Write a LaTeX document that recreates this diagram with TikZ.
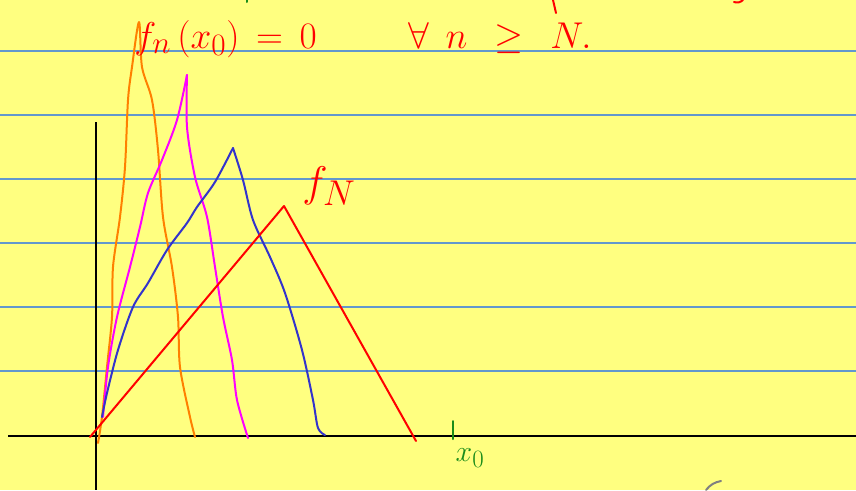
\documentclass[tikz,border=0pt]{standalone}
\usepackage{amsmath,amssymb}
\usepackage{xcolor}
\usepackage{tikz}
\usetikzlibrary{positioning}
\definecolor{paper}{RGB}{255,255,128}
\definecolor{rule}{RGB}{98,152,205}
\definecolor{inkorange}{RGB}{255,128,0}
\definecolor{inkmagenta}{RGB}{255,0,255}
\definecolor{inkblue}{RGB}{51,51,204}
\definecolor{inkred}{RGB}{255,0,0}
\definecolor{inkgreen}{RGB}{26,140,26}
\tikzset{
  ruled/.style  ={draw=rule, line width=1.4pt},
  axis/.style   ={draw=black, line width=2.2pt},
  pen/.style    ={line width=2pt, line cap=round, line join=round},
  redtxt/.style ={text=inkred, inner sep=0pt, anchor=base west, font=\Huge, scale=1.5},
  greentxt/.style ={text=inkgreen, inner sep=0pt, font=\Huge, scale=1.2},
}

\begin{document}
\begin{tikzpicture}[x=1pt, y=-1pt]
  \fill[paper] (0,0) rectangle (856,490);
  \useasboundingbox (0,0) rectangle (856,490);
  % ruled paper
  \foreach \y in {51,115,179,243,307,371} {
    \draw[ruled] (0,\y) -- (856,\y);
  }
  % axes
  \draw[axis] (96,122) -- (96,490);
  \draw[axis] (8,436) -- (856,436);
  % the functions
  \draw[pen, inkorange] plot[smooth, tension=0.5] coordinates {
    (98,443) (102,417) (107,367) (112,317) (113,267) (120,217) (125,167)
    (128,100) (132,67) (139,22) (142,67) (152,100) (158,150) (163,217)
    (172,267) (178,317) (180,367) (190,417) (195,437)};
  \draw[pen, inkmagenta] plot[smooth, tension=0.5] coordinates {
    (103,417) (108,367) (117,317) (130,267) (140,227) (148,193) (162,160)
    (177,120) (187,75)};
  \draw[pen, inkmagenta] plot[smooth, tension=0.5] coordinates {
    (187,75) (187,127) (195,177) (207,217) (215,267) (223,317) (232,360)
    (237,400) (248,438)};
  \draw[pen, inkblue] plot[smooth, tension=0.5] coordinates {
    (102,417) (107,393) (118,350) (133,307) (148,283) (167,250) (187,223)
    (197,207) (215,182) (233,148)};
  \draw[pen, inkblue] plot[smooth, tension=0.5] coordinates {
    (233,148) (243,180) (253,220) (270,257) (285,293) (302,350) (313,400)
    (318,428) (325,435)};
  \draw[pen, inkred] (90,437) -- (284,206) -- (416,441);
  % labels
  \node[redtxt] (fnx) at (134,48) {$f_n\,(x_0)\,=\,0$};
  \node[redtxt] (forall) at (408,48) {$\forall\;\, n\;\, \geq\;\, N.$};
  \node[redtxt, scale=1.15] (fN) at (302,196) {$f_N$};
  \draw[pen, inkgreen] (453,421) -- (453,439);
  \node[greentxt] (xzero) at (470,458) {$x_0$};
  % stray strokes
  \draw[pen, inkred] (553,0) -- (556,13);
  \draw[pen, inkred] (734,2) to[bend right] (743,0);
  \draw[pen, inkgreen] (247,0) -- (247,2);
  \draw[pen, gray] (706,490) to[bend left=20] (721,481);
\end{tikzpicture}
\end{document}
